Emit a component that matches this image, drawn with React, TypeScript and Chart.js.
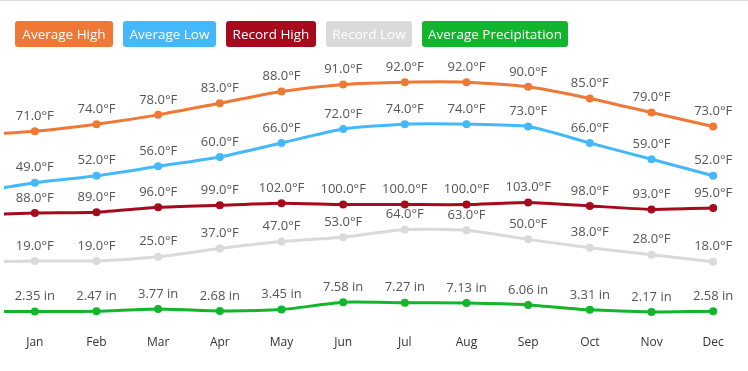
import React, { useEffect, useRef } from "react";
import { Chart, registerables } from "chart.js";

Chart.register(...registerables);

// 14 slots: one hidden lead point and one hidden trail point beyond the visible months
const months = ["", "Jan", "Feb", "Mar", "Apr", "May", "Jun", "Jul", "Aug", "Sep", "Oct", "Nov", "Dec", ""];
const avgHigh = [69.3, 71, 74, 78, 83, 88, 91, 92, 92, 90, 85, 79, 73, 67.4];
const avgLow = [44.7, 49, 52, 56, 60, 66, 72, 74, 74, 73, 66, 59, 52, 44.3];
const recordHigh = [85, 88, 89, 96, 99, 102, 100, 100, 100, 103, 98, 93, 95, 95];
const recordLow = [17, 19, 19, 25, 37, 47, 53, 64, 63, 50, 38, 28, 18, 9];
const avgPrecip = [2.35, 2.35, 2.47, 3.77, 2.68, 3.45, 7.58, 7.27, 7.13, 6.06, 3.31, 2.17, 2.58, 2.5];

const seriesNames = ["Average High", "Average Low", "Record High", "Record Low", "Average Precipitation"];
const seriesColors = ["#ef7836", "#44b8fb", "#a70a1d", "#dadada", "#12b52b"];

const FONT = "'Open Sans', 'Noto Sans', sans-serif";

const labelPlugin = {
  id: "pointLabels",
  afterDatasetsDraw(chart: any) {
    const ctx = chart.ctx;
    ctx.save();
    ctx.font = `13px ${FONT}`;
    ctx.fillStyle = "#555";
    ctx.textAlign = "center";
    ctx.textBaseline = "middle";
    chart.data.datasets.forEach((ds: any, i: number) => {
      const meta = chart.getDatasetMeta(i);
      for (let j = 1; j <= 12; j++) {
        const el = meta.data[j];
        if (!el) continue;
        const v = ds.data[j];
        const txt = ds.unit === "in" ? `${v.toFixed(2)} in` : `${v.toFixed(1)}°F`;
        ctx.fillText(txt, el.x, el.y - 15);
      }
    });
    ctx.restore();
  },
};

export default function App() {
  const ref = useRef<HTMLCanvasElement | null>(null);

  useEffect(() => {
    if (!ref.current) return;
    const mk = (idx: number, data: number[], axis: string, unit: string) => ({
      label: seriesNames[idx],
      data,
      yAxisID: axis,
      unit,
      borderColor: seriesColors[idx],
      backgroundColor: seriesColors[idx],
      pointBackgroundColor: seriesColors[idx],
      pointBorderWidth: 0,
      pointRadius: 4,
      borderWidth: 3,
      tension: 0.2,
      fill: false,
    });
    const chart = new Chart(ref.current, {
      type: "line",
      data: {
        labels: months,
        datasets: [
          mk(0, avgHigh, "yAvg", "F"),
          mk(1, avgLow, "yAvg", "F"),
          mk(2, recordHigh, "yRec", "F"),
          mk(3, recordLow, "yRec", "F"),
          mk(4, avgPrecip, "yPrec", "in"),
        ] as any,
      },
      options: {
        animation: false,
        responsive: false,
        devicePixelRatio: 1,
        layout: { padding: { top: 55, bottom: 11, left: 0, right: 0 } },
        plugins: { legend: { display: false }, tooltip: { enabled: false } },
        scales: {
          x: {
            type: "category",
            min: "Jan",
            max: "Dec",
            offset: true,
            grid: { display: false, drawTicks: false },
            border: { display: false },
            ticks: { color: "#333", font: { family: FONT, size: 12 }, padding: 10 },
          },
          yAvg: { type: "linear", display: false, min: -12.1, max: 103.6 },
          yRec: { type: "linear", display: false, min: -73.8, max: 314.7 },
          yPrec: { type: "linear", display: false, min: -5.5, max: 146 },
        },
      } as any,
      plugins: [labelPlugin],
    });
    return () => chart.destroy();
  }, []);

  const widths = [98, 93, 90, 86, 146];

  return (
    <div style={{ position: "relative", width: 748, height: 371, overflow: "hidden", fontFamily: FONT }}>
      <style>{`body{margin:0}`}</style>
      <canvas ref={ref} width={748} height={371} style={{ position: "absolute", left: 0, top: 0, width: 748, height: 371 }} />
      <div style={{ position: "absolute", left: 0, top: 0, width: 748, height: 1, background: "#dddddd" }} />
      <div style={{ position: "absolute", left: 15, top: 21, display: "flex", gap: 10 }}>
        {seriesNames.map((n, i) => (
          <div
            key={n}
            style={{
              width: widths[i],
              height: 26,
              lineHeight: "26px",
              background: seriesColors[i],
              color: "#fff",
              borderRadius: 3,
              fontSize: 13.5,
              textAlign: "center",
              whiteSpace: "nowrap",
            }}
          >
            {n}
          </div>
        ))}
      </div>
    </div>
  );
}
